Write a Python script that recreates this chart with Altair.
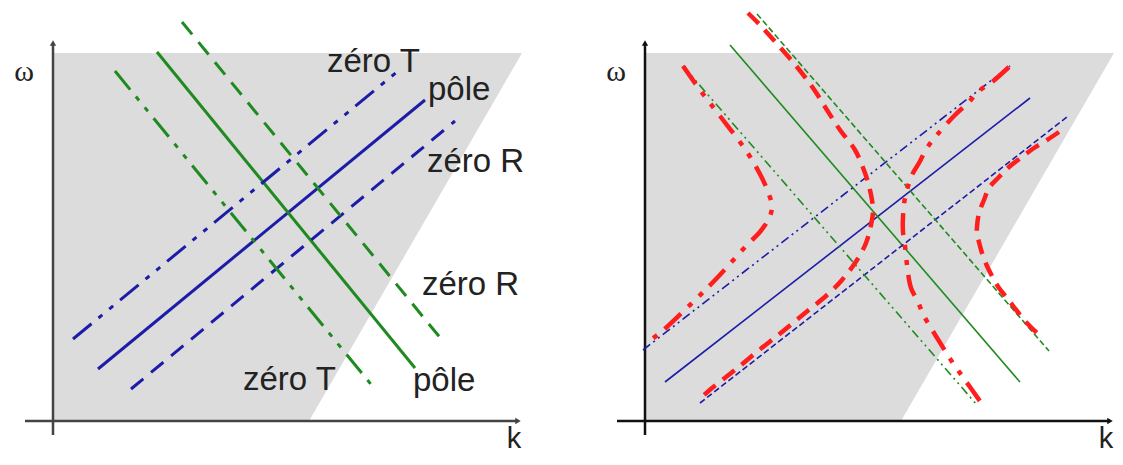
import altair as alt
import pandas as pd

# ---------------- data (panel-local units: k to the right of the ω-axis, ω above the k-axis) -------------
# shaded region (same in both panels): k runs from 0 to the slanted right edge
shade_omega = [0, 368]
shade_k_right = [256, 469]

# axes extent
axis_k = [-28, 465]
axis_omega = [-14, 378]

# straight lines: blue = ascending family, green = descending family
line_name = ["zéro T bleu", "pôle bleu", "zéro R bleu", "zéro T vert", "pôle vert", "zéro R vert"]
line_family = ["bleu", "bleu", "bleu", "vert", "vert", "vert"]
line_style = ["tiret-point-point", "plein", "tirets", "tiret-point-point", "plein", "tirets"]

left_k0 = [20, 45, 78, 62, 104, 129]
left_w0 = [82, 52, 32, 350, 369, 399]
left_k1 = [345, 372, 402, 321, 362, 389]
left_w1 = [350, 321, 300, 33, 53, 81]

right_k0 = [-2, 20, 55, 38, 85, 112]
right_w0 = [71, 39, 18, 355, 376, 407]
right_k1 = [365, 385, 422, 332, 375, 404]
right_w1 = [355, 323, 304, 16, 39, 70]

# red coupled branches (right panel)
branchA_k = [38, 55, 75, 102, 117, 123, 127, 126, 122, 114, 102, 72, 49, 15, 1]
branchA_w = [355, 331, 305, 269, 243, 229, 216, 208, 199, 188, 176, 143, 120, 88, 78]

branchB_k = [103, 115, 133, 152, 168, 182, 195, 210, 220, 225, 228, 226, 221, 212, 197, 182, 160, 137, 113, 90, 67, 58]
branchB_w = [408, 396, 376, 354, 333, 311, 291, 271, 248, 231, 211, 196, 178, 161, 141, 126, 108, 89, 70, 51, 33, 25]

branchC_k = [364, 347, 334, 323, 310, 292, 282, 274, 267, 260, 258, 258, 260, 263, 266, 273, 279, 294, 302, 310, 320, 337]
branchC_w = [354, 339, 330, 318, 306, 286, 273, 258, 246, 223, 204, 189, 175, 148, 133, 119, 105, 80, 67, 55, 41, 17]

branchD_k = [414, 402, 389, 377, 364, 354, 344, 339, 334, 332, 332, 335, 337, 342, 347, 354, 362, 372, 380, 392]
branchD_w = [289, 281, 273, 264, 254, 244, 233, 221, 208, 194, 188, 175, 168, 155, 145, 133, 123, 110, 100, 88]

# labels of the left panel
label_text = ["zéro T", "pôle", "zéro R", "zéro R", "pôle", "zéro T"]
label_k = [274, 375, 374, 369, 360, 190]
label_w = [349, 321, 249, 126, 30, 31]

# axis names
axis_name_text = ["ω", "k"]
axis_name_k = [-29, 461]
axis_name_w = [349, -27]

# ---------------- styling ----------------
BLUE = "#1c1ca8"
GREEN = "#1f8a1f"
RED = "#ff1e1e"
GRAY = "#dcdcdc"
W, H = 1107, 449

ys = alt.Scale(domain=[-36, 413])
xs_left = alt.Scale(domain=[-45, 1062])
xs_right = alt.Scale(domain=[-637, 470])

DASH_THICK = {"plein": None, "tirets": [16, 10], "tiret-point-point": [24, 9, 5, 9, 5, 9]}
DASH_THIN = {"plein": None, "tirets": [6, 3], "tiret-point-point": [9, 4, 2, 4, 2, 4]}
DASH_RED = {"tirets": [15, 9], "tiret-point-point": [22, 10, 5, 10, 5, 10]}


def seg_table(k0, w0, k1, w1):
    return pd.DataFrame({"name": line_name, "family": line_family, "style": line_style,
                         "k0": k0, "w0": w0, "k1": k1, "w1": w1})


def panel(xs, k0, w0, k1, w1, dashes, width, axis_color, extra=None):
    shade = alt.Chart(pd.DataFrame({"w": shade_omega, "k": shade_k_right})).mark_area(
        orient="horizontal", color=GRAY
    ).encode(
        y=alt.Y("w:Q", scale=ys, axis=None),
        x=alt.X("k:Q", scale=xs, axis=None),
        x2=alt.datum(0),
    )
    ax_df = pd.DataFrame({"a0": [axis_k[0]], "a1": [axis_k[1]], "b0": [axis_omega[0]], "b1": [axis_omega[1]]})
    base_ax = alt.Chart(ax_df).transform_calculate(z="0")
    kaxis = base_ax.mark_rule(color=axis_color, strokeWidth=2.5).encode(
        x=alt.X("a0:Q", scale=xs, axis=None), x2="a1:Q", y=alt.Y("z:Q", scale=ys, axis=None)
    )
    waxis = base_ax.mark_rule(color=axis_color, strokeWidth=2.5).encode(
        y=alt.Y("b0:Q", scale=ys, axis=None), y2="b1:Q", x=alt.X("z:Q", scale=xs, axis=None)
    )
    arrow_up = base_ax.mark_point(shape="triangle-up", filled=True, size=40, color=axis_color, opacity=1).encode(
        x=alt.X("z:Q", scale=xs, axis=None), y=alt.Y("b1:Q", scale=ys, axis=None)
    )
    arrow_right = base_ax.mark_point(shape="triangle-right", filled=True, size=40, color=axis_color, opacity=1).encode(
        x=alt.X("a1:Q", scale=xs, axis=None), y=alt.Y("z:Q", scale=ys, axis=None)
    )
    table = seg_table(k0, w0, k1, w1)
    layers = [shade, kaxis, waxis, arrow_up, arrow_right]
    for style, dash in dashes.items():
        for fam, col in [("bleu", BLUE), ("vert", GREEN)]:
            mk = dict(color=col, strokeWidth=width, strokeCap="butt")
            if dash is not None:
                mk["strokeDash"] = dash
            layers.append(
                alt.Chart(table).transform_filter(
                    (alt.datum.style == style) & (alt.datum.family == fam)
                ).mark_rule(**mk).encode(
                    x=alt.X("k0:Q", scale=xs, axis=None), x2="k1:Q",
                    y=alt.Y("w0:Q", scale=ys, axis=None), y2="w1:Q",
                )
            )
    names = pd.DataFrame({"t": axis_name_text, "k": axis_name_k, "w": axis_name_w})
    omega = alt.Chart(names).transform_filter(alt.datum.t == "ω").mark_text(
        font="Liberation Serif", fontSize=30, color="#222", align="center", baseline="middle"
    ).encode(x=alt.X("k:Q", scale=xs, axis=None), y=alt.Y("w:Q", scale=ys, axis=None), text="t:N")
    kk = alt.Chart(names).transform_filter(alt.datum.t == "k").mark_text(
        font="Liberation Sans", fontSize=29, color="#222", align="center", baseline="alphabetic"
    ).encode(x=alt.X("k:Q", scale=xs, axis=None), y=alt.Y("w:Q", scale=ys, axis=None), text="t:N")
    if extra is not None:
        layers += extra
    layers += [omega, kk]
    return alt.layer(*layers)


# left panel labels
labels = alt.Chart(pd.DataFrame({"t": label_text, "k": label_k, "w": label_w})).mark_text(
    font="Liberation Sans", fontSize=33, color="#222", align="left", baseline="alphabetic"
).encode(x=alt.X("k:Q", scale=xs_left, axis=None), y=alt.Y("w:Q", scale=ys, axis=None), text="t:N")

# red branches table
rows = []
for name, style, ks, ws in [("A", "tiret-point-point", branchA_k, branchA_w),
                            ("B", "tirets", branchB_k, branchB_w),
                            ("C", "tiret-point-point", branchC_k, branchC_w),
                            ("D", "tirets", branchD_k, branchD_w)]:
    for i, (kk_, ww) in enumerate(zip(ks, ws)):
        rows.append({"branch": name, "style": style, "i": i, "k": kk_, "w": ww})
red_df = pd.DataFrame(rows)

red_layers = []
for style, dash in DASH_RED.items():
    red_layers.append(
        alt.Chart(red_df).transform_filter(alt.datum.style == style).mark_line(
            color=RED, strokeWidth=4.5, interpolate="catmull-rom", strokeCap="butt", strokeDash=dash
        ).encode(
            x=alt.X("k:Q", scale=xs_right, axis=None),
            y=alt.Y("w:Q", scale=ys, axis=None),
            detail="branch:N",
            order=alt.Order("i:Q"),
        )
    )

left = panel(xs_left, left_k0, left_w0, left_k1, left_w1, DASH_THICK, 3, "#444", extra=[labels])
right = panel(xs_right, right_k0, right_w0, right_k1, right_w1, DASH_THIN, 1.6, "#111", extra=red_layers)

chart = alt.layer(left, right).resolve_scale(x="independent").properties(
    width=W, height=H, padding=0, autosize=alt.AutoSizeParams(type="none")
).configure_view(stroke=None)

chart.save("out.html", embed_options={"renderer": "svg", "actions": False})
